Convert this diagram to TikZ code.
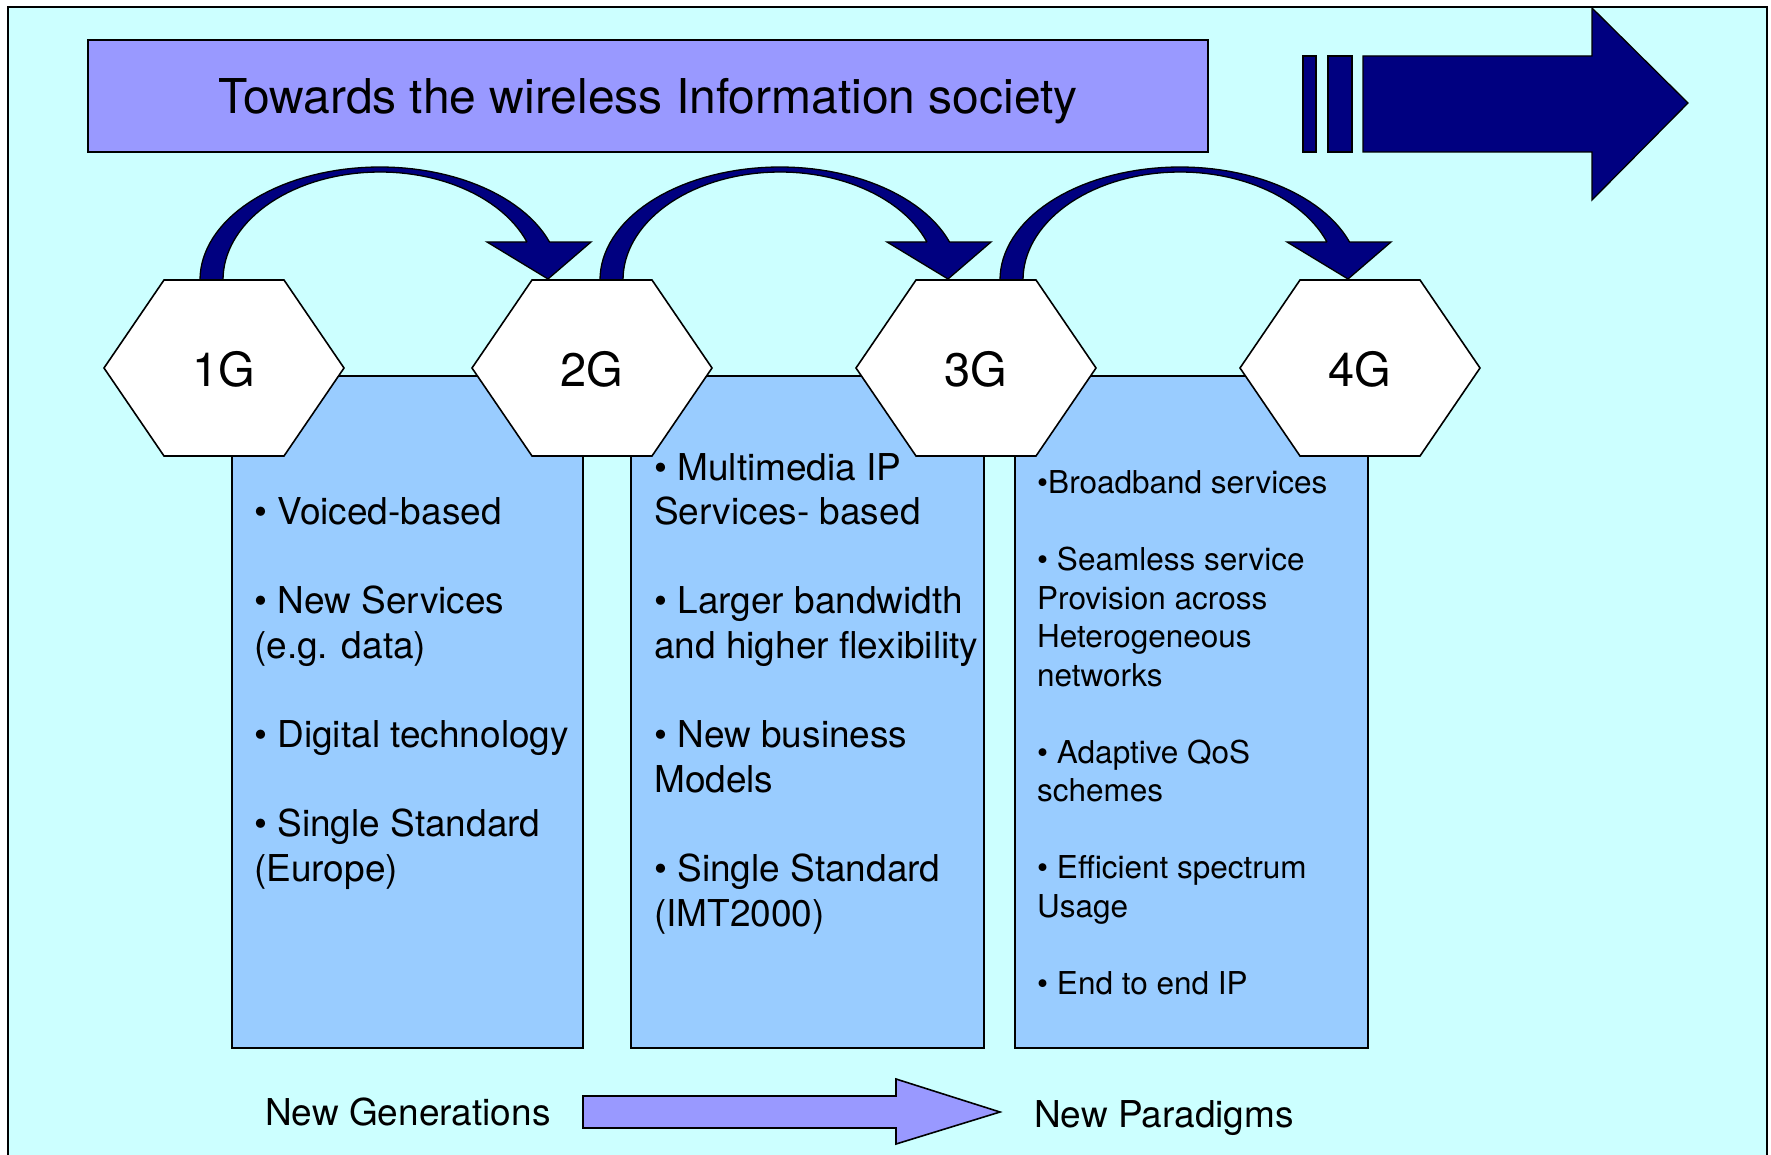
\documentclass[tikz,border=0pt]{standalone}
\usepackage{fontspec}
\setmainfont{TeX Gyre Heros}
\definecolor{bgc}{HTML}{CCFFFF}
\definecolor{titlec}{HTML}{9999FF}
\definecolor{navyc}{HTML}{000080}
\definecolor{boxc}{HTML}{99CCFF}
\begin{document}
\begin{tikzpicture}[x=1pt,y=-1pt,
  panel/.style={fill=boxc,draw=black,line width=2pt},
  hexshape/.style={fill=white,draw=black,line width=1.6pt,line join=miter},
  darkarrow/.style={fill=navyc,draw=black,line width=1.3pt,line join=miter},
  hexlabel/.style={anchor=base,inner sep=0pt,font=\fontsize{47}{56}\selectfont},
  coltext/.style={anchor=base west,inner sep=0pt,align=left,font=\fontsize{37}{44.6}\selectfont},
  smalltext/.style={anchor=base west,inner sep=0pt,align=left,font=\fontsize{31.5}{38.5}\selectfont},
  plain/.style={anchor=base west,inner sep=0pt,font=\fontsize{37}{44.6}\selectfont}]
\useasboundingbox (0,0) rectangle (1771,1155);
% background
\fill[white] (0,0) rectangle (1771,1155);
\draw[fill=bgc,line width=2.5pt] (8,1170) -- (8,7) -- (1767,7) -- (1767,1170);
% title
\draw[fill=titlec,line width=2pt] (88,40) rectangle (1208,152);
\node[anchor=base,inner sep=0pt,font=\fontsize{48}{58}\selectfont] (title) at (648,114) {Towards the wireless Information society};
% big arrow top right
\draw[darkarrow] (1303,56) rectangle (1316,152);
\draw[darkarrow] (1328,56) rectangle (1352,152);
\draw[darkarrow] (1363,56) -- (1592,56) -- (1592,8) -- (1688,103) -- (1592,200) -- (1592,152) -- (1363,152) -- cycle;
% panels
\draw[panel] (232,376) rectangle (583,1048);
\draw[panel] (631,376) rectangle (984,1048);
\draw[panel] (1015,376) rectangle (1368,1048);
% curved arrows
\foreach \xo in {200,600,1000}{
  \draw[darkarrow] (\xo,283) -- plot[variable=\t,domain=180:19.6,samples=60] ({\xo+180+180*cos(\t)},{280-113*sin(\t)})
    -- (\xo+391,242) -- (\xo+348,279) -- (\xo+287,242) -- (\xo+327,242)
    -- plot[variable=\t,domain=20.6:180,samples=60] ({\xo+180+157*cos(\t)},{280-108*sin(\t)})
    -- (\xo+23,283) -- cycle;
}
% hexagons
\foreach \cx/\lab/\nm in {224/1G/g1,592/2G/g2,976/3G/g3,1360/4G/g4}{
  \draw[hexshape] (\cx-120,368) -- (\cx-60,280) -- (\cx+60,280) -- (\cx+120,368) -- (\cx+60,456) -- (\cx-60,456) -- cycle;
  \node[hexlabel] (\nm) at (\cx,386) {\lab};
}
% column texts (anchored at the baseline of the last line)
\node[coltext] (c1) at (254,881) {• Voiced-based\\[44.6pt]• New Services\\(e.g. data)\\[44.6pt]• Digital technology\\[44.6pt]• Single Standard\\(Europe)};
\node[coltext] (c2) at (654,926) {• Multimedia IP\\Services- based\\[44.6pt]• Larger bandwidth\\and higher flexibility\\[44.6pt]• New business\\Models\\[44.6pt]• Single Standard\\(IMT2000)};
\node[smalltext] (c3) at (1037,994) {•Broadband services\\[38.5pt]• Seamless service\\Provision across\\Heterogeneous\\networks\\[38.5pt]• Adaptive QoS\\schemes\\[38.5pt]• Efficient spectrum\\Usage\\[38.5pt]• End to end IP};
% bottom
\node[plain] (gen) at (265,1125) {New Generations};
\node[plain] (par) at (1034,1127) {New Paradigms};
\draw[fill=titlec,line width=1.6pt,line join=miter] (583,1096) -- (896,1096) -- (896,1079) -- (1000,1112) -- (896,1144) -- (896,1128) -- (583,1128) -- cycle;
\end{tikzpicture}
\end{document}
